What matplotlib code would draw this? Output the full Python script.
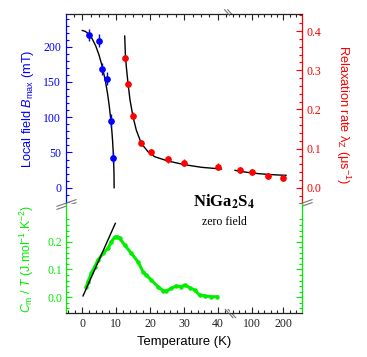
import numpy as np
import matplotlib.pyplot as plt
from matplotlib.ticker import MultipleLocator, FixedLocator, FormatStrFormatter
from matplotlib.path import Path

plt.rcParams['font.family'] = ['Liberation Serif', 'DejaVu Serif']
plt.rcParams['mathtext.fontset'] = 'custom'
plt.rcParams['mathtext.rm'] = 'Liberation Sans'
plt.rcParams['mathtext.it'] = 'Liberation Sans:italic'
plt.rcParams['mathtext.bf'] = 'Liberation Sans:bold'

# local field B_max (left axis, top panel)
T_field = [2.15, 4.9, 6.0, 7.4, 8.5, 9.2]
B_field = [216.6, 208.5, 168.4, 154.6, 95.0, 42.6]
B_err = [8, 9, 9, 9, 9, 8]
T_field_fit = [0.1, 1, 2, 3, 4, 5, 6, 7, 7.5, 8, 8.5, 8.8, 9.0, 9.2, 9.35, 9.42, 9.45]
B_field_fit = [223, 221.7, 217.8, 211.2, 201.5, 188.3, 171.1, 148.1, 133.8, 116.6,
               95.2, 79, 65.8, 48.9, 30.6, 16.5, 0]

# relaxation rate lambda_Z (right axis, top panel)
T_relax = [12.56, 13.5, 15.0, 17.4, 20.2, 25.4, 30.1, 40.0, 63, 102, 150, 200]
lam_relax = [0.330, 0.265, 0.184, 0.115, 0.092, 0.072, 0.064, 0.054, 0.046, 0.041, 0.030, 0.0255]
lam_err = [0.008] * 12
T_relax_fit_lo = [12.56, 12.74, 13.03, 13.53, 14.12, 15.0, 15.97, 17.44, 19.41, 21.38,
                  25.29, 30.2, 35.1, 41.0]
lam_relax_fit_lo = [0.387, 0.343, 0.309, 0.2665, 0.224, 0.181, 0.147, 0.113, 0.0919, 0.0791,
                    0.0681, 0.0587, 0.0521, 0.0477]
T_relax_fit_hi = [47.2, 70, 94.6, 120, 147.5, 175, 208.5]
lam_relax_fit_hi = [0.0444, 0.0410, 0.0383, 0.0360, 0.0342, 0.0328, 0.0316]

# magnetic specific heat C_m / T (bottom panel)
T_cm = [1.27, 1.76, 2.75, 3.73, 4.71, 6.18, 7.65, 8.63, 9.61, 10.39, 11.08, 12.55, 14.51,
        16.47, 17.94, 18.92, 20.39, 22.35, 23.82, 24.8, 26.27, 27.75, 29.2, 30.2, 31.67,
        33.14, 34.6, 36.08, 38.04, 39.8]
cm = [0.038, 0.056, 0.086, 0.110, 0.134, 0.158, 0.176, 0.200, 0.216, 0.218, 0.212, 0.188,
      0.158, 0.128, 0.092, 0.080, 0.062, 0.038, 0.024, 0.023, 0.032, 0.041, 0.038, 0.044,
      0.035, 0.026, 0.008, 0.005, 0.002, 0.002]
T_cm_lin = [0.3, 9.8]
cm_lin = [0.005, 0.266]

T_BREAK = 45
T_left = (-4.71, 43.53)
T_right = (31.3, 259.2)
B_lim = (-23.1, 246.4)
lam_lim = (-0.0416, 0.4434)
cm_lim = (-0.0565, 0.3356)

BLUE = '#0000ff'
RED = '#ff0000'
GREEN = '#00ee00'
DARK = '#222222'

W, H = 367, 357
fig = plt.figure(figsize=(W / 100, H / 100), dpi=100)


def frame(x0, y0, x1, y1):
    return fig.add_axes([x0 / W, 1 - y1 / H, (x1 - x0) / W, (y1 - y0) / H])


ax_ul = frame(66, 14, 230, 204)
ax_ur = frame(230, 14, 302, 204)
ax_ll = frame(66, 204, 230, 313)
ax_lr = frame(230, 204, 302, 313)
ax_ulr = ax_ul.twinx()

tick = dict(direction='in', width=0.8, labelsize=8.5)
for ax in (ax_ul, ax_ur, ax_ll, ax_lr, ax_ulr):
    ax.tick_params(which='major', length=4.5, **tick)
    ax.tick_params(which='minor', length=2.3, **tick)
    for s in ax.spines.values():
        s.set_linewidth(0.9)

# ---- upper left: field + low-T relaxation
ax_ul.set_xlim(T_left)
ax_ul.set_ylim(B_lim)
ax_ul.spines['bottom'].set_visible(False)
ax_ul.spines['right'].set_visible(False)
ax_ul.spines['left'].set_color(BLUE)
ax_ul.spines['top'].set_color(DARK)
ax_ul.tick_params(axis='x', which='both', top=True, bottom=False, labelbottom=False, colors=DARK)
ax_ul.tick_params(axis='y', which='both', left=True, right=False, colors=BLUE)
ax_ul.xaxis.set_major_locator(MultipleLocator(10))
ax_ul.xaxis.set_minor_locator(MultipleLocator(2.5))
ax_ul.yaxis.set_major_locator(MultipleLocator(50))
ax_ul.yaxis.set_minor_locator(MultipleLocator(10))
ax_ul.plot(T_field_fit, B_field_fit, color='black', lw=1)
ax_ul.errorbar(T_field, B_field, yerr=B_err, xerr=0.3, fmt='o', color=BLUE, ms=3.8,
               elinewidth=1, capsize=0, zorder=3)
ax_ul.set_ylabel(r'Local field $B_{\rm max}$ (mT)', color=BLUE, fontsize=9.2,
                 family='Liberation Sans')
ax_ul.yaxis.set_label_coords(-0.185, 0.5)

ax_ulr.set_ylim(lam_lim)
ax_ulr.set_axis_off()
T_r = np.array(T_relax)
lam_r = np.array(lam_relax)
err_r = np.array(lam_err)
lo = T_r < T_BREAK
ax_ulr.plot(T_relax_fit_lo, lam_relax_fit_lo, color='black', lw=1)
ax_ulr.errorbar(T_r[lo], lam_r[lo], yerr=err_r[lo], fmt='o', color=RED, ms=3.8,
                elinewidth=1, capsize=0, zorder=3)

# ---- upper right: high-T relaxation
ax_ur.set_xlim(T_right)
ax_ur.set_ylim(lam_lim)
ax_ur.spines['bottom'].set_visible(False)
ax_ur.spines['left'].set_visible(False)
ax_ur.spines['right'].set_color(RED)
ax_ur.spines['top'].set_color(DARK)
ax_ur.tick_params(axis='x', which='both', top=True, bottom=False, labelbottom=False, colors=DARK)
ax_ur.tick_params(axis='y', which='both', left=False, labelleft=False, right=True,
                  labelright=True, colors=RED)
ax_ur.xaxis.set_major_locator(FixedLocator([100, 200]))
ax_ur.xaxis.set_minor_locator(MultipleLocator(20))
ax_ur.yaxis.set_major_locator(MultipleLocator(0.1))
ax_ur.yaxis.set_minor_locator(MultipleLocator(0.02))
ax_ur.yaxis.set_major_formatter(FormatStrFormatter('%.1f'))
ax_ur.plot(T_relax_fit_hi, lam_relax_fit_hi, color='black', lw=1)
ax_ur.errorbar(T_r[~lo], lam_r[~lo], yerr=err_r[~lo], fmt='o', color=RED, ms=3.8,
               elinewidth=1, capsize=0, zorder=3)
ax_ur.yaxis.set_label_position('right')
ax_ur.set_ylabel('Relaxation rate λ$_{\\rm Z}$ (μs$^{-1}$)', color=RED, fontsize=9.2,
                 family='Liberation Sans', rotation=270, va='bottom')
ax_ur.yaxis.set_label_coords(1.44, 0.47)

# ---- lower left: specific heat
ax_ll.set_xlim(T_left)
ax_ll.set_ylim(cm_lim)
ax_ll.spines['top'].set_visible(False)
ax_ll.spines['right'].set_visible(False)
ax_ll.spines['left'].set_color(GREEN)
ax_ll.spines['bottom'].set_color(DARK)
ax_ll.tick_params(axis='x', which='both', top=False, bottom=True, colors=DARK)
ax_ll.tick_params(axis='y', which='both', left=True, right=False, colors=GREEN, pad=2.5)
ax_ll.xaxis.set_major_locator(MultipleLocator(10))
ax_ll.xaxis.set_minor_locator(MultipleLocator(2))
ax_ll.yaxis.set_major_locator(FixedLocator([0.0, 0.1, 0.2]))
ax_ll.yaxis.set_minor_locator(FixedLocator(np.arange(-0.04, 0.29, 0.02)))
ax_ll.yaxis.set_major_formatter(FormatStrFormatter('%.1f'))
ax_ll.plot(T_cm, cm, '-o', color=GREEN, lw=2.2, ms=2.2)
ax_ll.plot(T_cm_lin, cm_lin, color='black', lw=1)
ax_ll.set_ylabel(r'$C_{\rm m}$ / $T$ (J.mol$^{-1}$.K$^{-2}$)', color=GREEN, fontsize=8.8,
                 family='Liberation Sans')
ax_ll.yaxis.set_label_coords(-0.18, 0.5)

# ---- lower right
ax_lr.set_xlim(T_right)
ax_lr.set_ylim(cm_lim)
ax_lr.spines['top'].set_visible(False)
ax_lr.spines['left'].set_visible(False)
ax_lr.spines['right'].set_color(GREEN)
ax_lr.spines['bottom'].set_color(DARK)
ax_lr.tick_params(axis='x', which='both', top=False, bottom=True, colors=DARK)
ax_lr.tick_params(axis='y', which='both', left=False, labelleft=False, right=True,
                  labelright=False, colors=GREEN)
ax_lr.xaxis.set_major_locator(FixedLocator([100, 200]))
ax_lr.xaxis.set_minor_locator(MultipleLocator(20))
ax_lr.yaxis.set_major_locator(FixedLocator([0.0, 0.1, 0.2]))
ax_lr.yaxis.set_minor_locator(FixedLocator(np.arange(-0.04, 0.29, 0.02)))

# ---- break marks
back = Path([(-1.2, 1), (0.6, -1), (-0.6, 1), (1.2, -1)],
            [Path.MOVETO, Path.LINETO, Path.MOVETO, Path.LINETO])
fwd = Path([(-1, -0.5), (1, 0.2), (-1, -0.2), (1, 0.5)],
           [Path.MOVETO, Path.LINETO, Path.MOVETO, Path.LINETO])


def brk(ax, x, y, path, size):
    ax.plot([x], [y], transform=ax.transAxes, marker=path, ms=size, mec='#777777',
            mfc='none', mew=0.8, ls='none', clip_on=False, zorder=10)


brk(ax_ul, 1, 1, back, 9)
brk(ax_ll, 1, 0, back, 8)
brk(ax_ul, 0, 0, fwd, 14.5)
brk(ax_ur, 1, 0, fwd, 14.5)

fig.text(184 / W, 1 - 342 / H, 'Temperature (K)', ha='center', va='center',
         family='Liberation Sans', fontsize=9.4)
fig.text(224 / W, 1 - 202 / H, r'NiGa$_\mathbf{2}$S$_\mathbf{4}$', ha='center', va='center',
         fontsize=12, fontweight='bold', math_fontfamily='stix')
fig.text(224 / W, 1 - 222 / H, 'zero field', ha='center', va='center', fontsize=8.5)

fig.savefig('out.png', dpi=100)
